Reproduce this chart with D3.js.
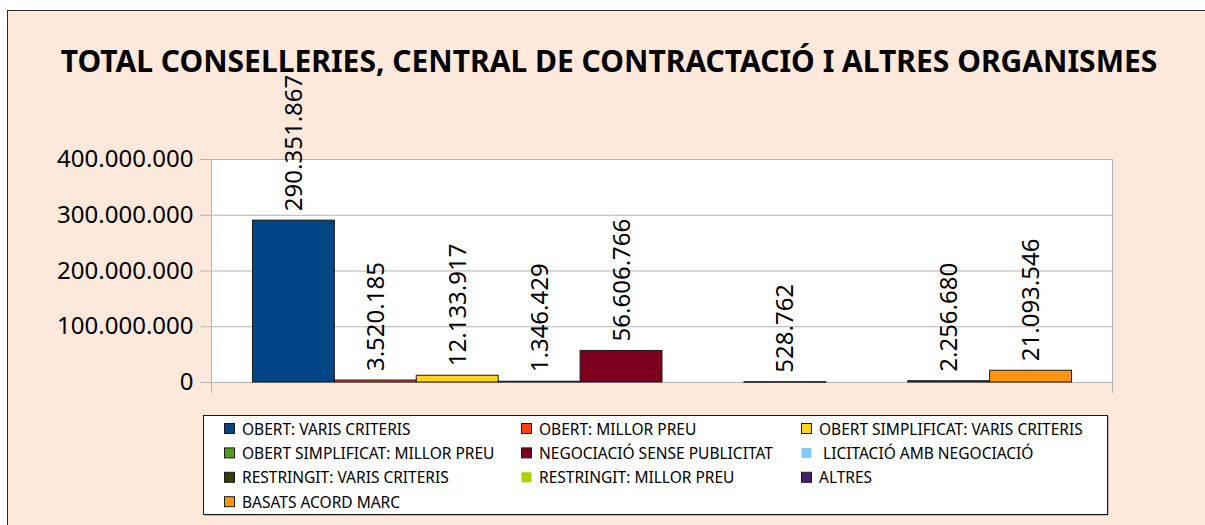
<!DOCTYPE html>
<html>
<head>
<meta charset="utf-8">
<script src="https://cdn.jsdelivr.net/npm/d3@7"></script>
<style>
  html, body { margin: 0; padding: 0; background: #ffffff; }
  svg { display: block; }
  text { font-family: "Noto Sans", "Open Sans", sans-serif; fill: #000; }
</style>
</head>
<body>
<svg id="chart" width="1205" height="525"></svg>
<script>
// ---------- DATA ----------
const title = "TOTAL CONSELLERIES, CENTRAL DE CONTRACTACIÓ I ALTRES ORGANISMES";
const categories = ["TOTAL"];
const seriesNames = [
  "OBERT: VARIS CRITERIS",
  "OBERT: MILLOR PREU",
  "OBERT SIMPLIFICAT: VARIS CRITERIS",
  "OBERT SIMPLIFICAT: MILLOR PREU",
  "NEGOCIACIÓ SENSE PUBLICITAT",
  " LICITACIÓ AMB NEGOCIACIÓ",
  "RESTRINGIT: VARIS CRITERIS",
  "RESTRINGIT: MILLOR PREU",
  "ALTRES",
  "BASATS ACORD MARC"
];
const seriesValues = [290351867, 3520185, 12133917, 1346429, 56606766, null, 528762, null, 2256680, 21093546];
const seriesColors = ["#004586", "#ff420e", "#ffd320", "#579d1c", "#7e0021", "#83caff", "#314004", "#aecf00", "#4b1f6f", "#ff950e"];
const yTicks = [0, 100000000, 200000000, 300000000, 400000000];

// ---------- LAYOUT ----------
const svg = d3.select("#chart");
const W = 1205, H = 525;
const plot = { left: 211, right: 1112, top: 159, bottom: 382 };
const locale = d3.formatLocale({ decimal: ",", thousands: ".", grouping: [3], currency: ["", "€"] });
const fmt = locale.format(",d");

// Background with border
svg.append("rect").attr("x", 0).attr("y", 0).attr("width", W).attr("height", H).attr("fill", "#ffffff");
svg.append("rect")
  .attr("x", 7.5).attr("y", 10.5).attr("width", W + 10).attr("height", H + 10)
  .attr("fill", "#fde9db").attr("stroke", "#2a2a2a").attr("stroke-width", 1);

// Title
svg.append("text")
  .attr("x", 609).attr("y", 72)
  .attr("text-anchor", "middle")
  .style("font-weight", "bold").style("font-size", "30px")
  .text(title);

// Scales
const y = d3.scaleLinear().domain([0, 400000000]).range([plot.bottom, plot.top]);
const x0 = d3.scaleBand().domain(categories).range([plot.left, plot.right]).paddingInner(0).paddingOuter(0.05);
const x1 = d3.scaleBand().domain(seriesNames).range([0, x0.bandwidth()]).padding(0);

// Plot area
svg.append("rect")
  .attr("x", plot.left).attr("y", plot.top)
  .attr("width", plot.right - plot.left).attr("height", plot.bottom - plot.top)
  .attr("fill", "#ffffff");

// Gridlines
const grid = svg.append("g").attr("transform", `translate(${plot.left},0)`)
  .call(d3.axisLeft(y).tickValues(yTicks).tickSize(-(plot.right - plot.left)).tickFormat(""));
grid.select(".domain").remove();
grid.selectAll("line").attr("stroke", "#b3b3b3").attr("stroke-width", 1);

// Right border of plot
svg.append("line")
  .attr("x1", plot.right + 0.5).attr("x2", plot.right + 0.5)
  .attr("y1", plot.top).attr("y2", plot.bottom + 11)
  .attr("stroke", "#b3b3b3");

// Y axis
const yAxis = svg.append("g").attr("transform", `translate(${plot.left + 0.5},0)`)
  .call(d3.axisLeft(y).tickValues(yTicks).tickSize(11).tickPadding(7).tickFormat(d => fmt(d)));
yAxis.select(".domain").remove();
yAxis.selectAll("line").attr("stroke", "#b3b3b3");
yAxis.selectAll("text").style("font-size", "24px").attr("fill", "#000");
svg.append("line")
  .attr("x1", plot.left + 0.5).attr("x2", plot.left + 0.5)
  .attr("y1", plot.top).attr("y2", plot.bottom + 11)
  .attr("stroke", "#b3b3b3");

// Bars
const data = seriesNames.map((s, i) => ({ name: s, value: seriesValues[i], color: seriesColors[i] }))
  .filter(d => d.value !== null);

const g = svg.append("g");
g.selectAll("rect.bar").data(data).enter().append("rect")
  .attr("class", "bar")
  .attr("x", d => x0("TOTAL") + x1(d.name) + 0.5)
  .attr("width", x1.bandwidth())
  .attr("y", d => y(d.value))
  .attr("height", d => Math.max(0.5, y(0) - y(d.value)))
  .attr("fill", d => d.color)
  .attr("stroke", "#1a1a1a").attr("stroke-width", 1);

// Value labels
g.selectAll("text.lbl").data(data).enter().append("text")
  .attr("class", "lbl")
  .attr("transform", d => {
    const cx = x0("TOTAL") + x1(d.name) + x1.bandwidth() / 2 + 9;
    const cy = y(d.value) - 9;
    return `translate(${cx},${cy}) rotate(-90)`;
  })
  .attr("text-anchor", "start")
  .style("font-size", "24px")
  .text(d => fmt(d.value));

// Legend
const legend = { x: 203, y: 415, w: 904, h: 99 };
svg.append("rect")
  .attr("x", legend.x + 1.5).attr("y", legend.y + 1.5).attr("width", legend.w).attr("height", legend.h)
  .attr("fill", "#8a8a8a");
svg.append("rect")
  .attr("x", legend.x + 0.5).attr("y", legend.y + 0.5).attr("width", legend.w).attr("height", legend.h)
  .attr("fill", "#ffffff").attr("stroke", "#1a1a1a");

const colX = [224, 521, 801];
const rowY0 = 429, rowStep = 24.4;
const items = svg.append("g").selectAll("g").data(seriesNames.map((s, i) => ({ name: s, i, color: seriesColors[i], empty: seriesValues[i] === null })))
  .enter().append("g")
  .attr("transform", d => `translate(${colX[d.i % 3]},${rowY0 + Math.floor(d.i / 3) * rowStep})`);
items.append("rect")
  .attr("x", 0.5).attr("y", -5.5).attr("width", 10).attr("height", 10)
  .attr("fill", d => d.color)
  .attr("stroke", d => d.empty ? "none" : "#1a1a1a");
items.append("text")
  .attr("x", 18).attr("y", 5.5)
  .style("font-size", "15.5px")
  .style("white-space", "pre")
  .attr("xml:space", "preserve")
  .text(d => d.name);
</script>
</body>
</html>
